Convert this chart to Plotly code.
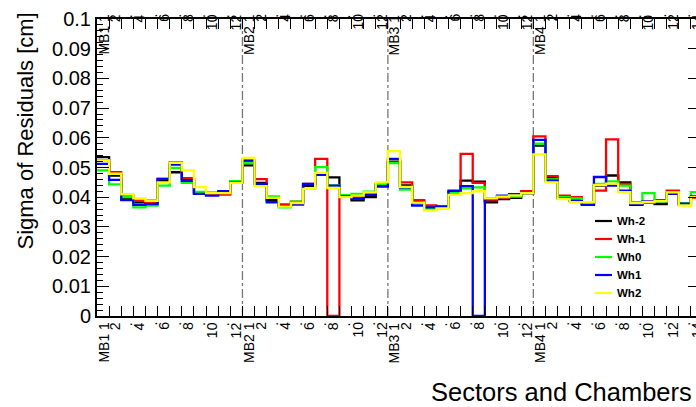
import plotly.graph_objects as go

# Chambers and how many sectors each one has
CHAMBERS = ["MB1", "MB2", "MB3", "MB4"]
SECTOR_COUNTS = [12, 12, 12, 14]

# Sigma of residuals [cm] per bin (chamber/sector), one list per wheel
wh_m2 = [0.0535, 0.0473, 0.0395, 0.0383, 0.0388, 0.0455, 0.0484, 0.0462, 0.0416, 0.0408, 0.0413, 0.0450,
         0.0507, 0.0448, 0.0390, 0.0372, 0.0380, 0.0438, 0.0478, 0.0467, 0.0405, 0.0389, 0.0400, 0.0444,
         0.0520, 0.0440, 0.0385, 0.0365, 0.0368, 0.0418, 0.0456, 0.0452, 0.0383, 0.0394, 0.0398, 0.0414,
         0.0574, 0.0466, 0.0402, 0.0389, 0.0378, 0.0439, 0.0473, 0.0450, 0.0374, 0.0381, 0.0377, 0.0413, 0.0375, 0.0400]
wh_m1 = [0.0525, 0.0484, 0.0405, 0.0388, 0.0382, 0.0462, 0.0518, 0.0464, 0.0413, 0.0410, 0.0409, 0.0450,
         0.0518, 0.0461, 0.0400, 0.0376, 0.0385, 0.0445, 0.0529, 0.0000, 0.0402, 0.0400, 0.0410, 0.0440,
         0.0517, 0.0450, 0.0390, 0.0372, 0.0368, 0.0414, 0.0546, 0.0448, 0.0389, 0.0398, 0.0404, 0.0420,
         0.0605, 0.0471, 0.0405, 0.0400, 0.0380, 0.0422, 0.0595, 0.0445, 0.0383, 0.0385, 0.0390, 0.0422, 0.0380, 0.0398]
wh_0 = [0.0490, 0.0443, 0.0400, 0.0366, 0.0372, 0.0439, 0.0499, 0.0448, 0.0418, 0.0416, 0.0415, 0.0454,
        0.0515, 0.0443, 0.0403, 0.0366, 0.0385, 0.0428, 0.0501, 0.0440, 0.0407, 0.0411, 0.0419, 0.0444,
        0.0515, 0.0426, 0.0380, 0.0360, 0.0363, 0.0414, 0.0430, 0.0433, 0.0396, 0.0400, 0.0402, 0.0414,
        0.0580, 0.0460, 0.0400, 0.0396, 0.0376, 0.0445, 0.0453, 0.0439, 0.0383, 0.0414, 0.0385, 0.0414, 0.0380, 0.0417]
wh_p1 = [0.0512, 0.0458, 0.0390, 0.0374, 0.0377, 0.0462, 0.0510, 0.0455, 0.0411, 0.0405, 0.0420, 0.0450,
         0.0524, 0.0445, 0.0383, 0.0370, 0.0375, 0.0445, 0.0475, 0.0439, 0.0403, 0.0395, 0.0408, 0.0436,
         0.0529, 0.0433, 0.0372, 0.0366, 0.0368, 0.0422, 0.0437, 0.0000, 0.0394, 0.0405, 0.0410, 0.0414,
         0.0593, 0.0456, 0.0396, 0.0387, 0.0374, 0.0468, 0.0439, 0.0422, 0.0378, 0.0385, 0.0387, 0.0411, 0.0378, 0.0403]
wh_p2 = [0.0524, 0.0479, 0.0410, 0.0396, 0.0388, 0.0450, 0.0516, 0.0490, 0.0434, 0.0414, 0.0414, 0.0448,
         0.0532, 0.0437, 0.0398, 0.0368, 0.0380, 0.0428, 0.0482, 0.0431, 0.0400, 0.0405, 0.0416, 0.0450,
         0.0555, 0.0435, 0.0382, 0.0355, 0.0362, 0.0408, 0.0414, 0.0420, 0.0396, 0.0402, 0.0406, 0.0414,
         0.0544, 0.0450, 0.0394, 0.0383, 0.0383, 0.0441, 0.0446, 0.0417, 0.0380, 0.0383, 0.0387, 0.0416, 0.0372, 0.0400]

SERIES = [("Wh-2", wh_m2, "#000000"),
          ("Wh-1", wh_m1, "#ff0000"),
          ("Wh0", wh_0, "#00ff00"),
          ("Wh1", wh_p1, "#0000ff"),
          ("Wh2", wh_p2, "#ffff00")]

Y_TICKS = [0, 0.01, 0.02, 0.03, 0.04, 0.05, 0.06, 0.07, 0.08, 0.09, 0.1]
Y_TICK_TEXT = ["0", "0.01", "0.02", "0.03", "0.04", "0.05", "0.06", "0.07", "0.08", "0.09", "0.1"]

# Bin labels: "MBn 1" on the first sector, even sectors numbered, odd ones dotted
bin_labels = []
for ch, n in zip(CHAMBERS, SECTOR_COUNTS):
    for s in range(1, n + 1):
        if s == 1:
            bin_labels.append(ch + " 1")
        elif s % 2 == 0:
            bin_labels.append(str(s))
        else:
            bin_labels.append(".")
n_bins = len(bin_labels)
edges = list(range(n_bins + 1))

# Canvas geometry (pixels)
W, H = 696, 407
L, R, T, B = 97, 0, 19, 91
PW, PH = W - L - R, H - T - B
X_MAX = 49.42  # frame extends a little past the right side of the canvas

FONT = "Liberation Sans, Arial, sans-serif"


def px_x(px):
    return (px - L) / PW


def px_y(py):
    return (H - B - py) / PH


fig = go.Figure()
for name, vals, color in SERIES:
    fig.add_trace(go.Scatter(
        x=edges, y=vals + [vals[-1]], mode="lines", name=name,
        line=dict(color=color, width=2.3, shape="hv"),
        showlegend=False, hoverinfo="skip"))

# empty trace so the right-hand tick axis is drawn
fig.add_trace(go.Scatter(x=[], y=[], yaxis="y2", showlegend=False))

shapes = []
# chamber separators
for boundary in [12, 24, 36]:
    shapes.append(dict(type="line", xref="x", yref="paper", x0=boundary, x1=boundary, y0=0, y1=1,
                       line=dict(color="#777777", width=1.3, dash="dashdot"), layer="below"))

annotations = []
for i, lab in enumerate(bin_labels):
    xc = i + 0.5
    xp = xc / X_MAX
    for y_anchor_px in (12, 320):
        annotations.append(dict(
            x=xp, xref="paper", y=px_y(y_anchor_px), yref="paper",
            text=lab, showarrow=False, textangle=-90,
            xanchor="center", yanchor="top",
            font=dict(family=FONT, size=14, color="black")))

# axis titles
annotations.append(dict(x=px_x(25), xref="paper", y=px_y(11), yref="paper",
                        text="Sigma of Residuals [cm]", showarrow=False, textangle=-90,
                        xanchor="center", yanchor="top",
                        font=dict(family=FONT, size=22, color="black")))
annotations.append(dict(x=px_x(694), xref="paper", y=px_y(392), yref="paper",
                        text="Sectors and Chambers", showarrow=False,
                        xanchor="right", yanchor="middle",
                        font=dict(family=FONT, size=25.5, color="black")))

# legend
for k, (name, vals, color) in enumerate(SERIES):
    yp = 221 + 18 * k
    shapes.append(dict(type="line", xref="paper", yref="paper",
                       x0=px_x(595), x1=px_x(612), y0=px_y(yp), y1=px_y(yp),
                       line=dict(color=color, width=2.2)))
    annotations.append(dict(x=px_x(615), xref="paper", y=px_y(yp), yref="paper",
                            text="<b>%s</b>" % name, showarrow=False,
                            xanchor="left", yanchor="middle",
                            font=dict(family=FONT, size=11.5, color="black")))

minor_vals = [round(0.002 * k, 3) for k in range(51) if k % 5 != 0]

fig.update_layout(
    width=W, height=H,
    margin=dict(l=L, r=R, t=T, b=B, pad=0),
    paper_bgcolor="white", plot_bgcolor="white",
    font=dict(family=FONT, color="black"),
    showlegend=False,
    shapes=shapes, annotations=annotations,
    xaxis=dict(range=[0, X_MAX], showgrid=False, zeroline=False,
               showline=True, linewidth=2, linecolor="black", mirror="ticks",
               ticks="inside", ticklen=10, tickwidth=1, tickcolor="black",
               tickmode="array", tickvals=edges, showticklabels=False),
    yaxis=dict(range=[0, 0.1], showgrid=False, zeroline=False,
               showline=True, linewidth=2, linecolor="black",
               ticks="inside", ticklen=12, tickwidth=1, tickcolor="black",
               tickmode="array", tickvals=Y_TICKS, ticktext=Y_TICK_TEXT,
               tickfont=dict(family=FONT, size=20, color="black"),
               minor=dict(tickmode="array", tickvals=minor_vals, ticks="inside",
                          ticklen=6, tickwidth=1, tickcolor="black", showgrid=False)),
    yaxis2=dict(range=[0, 0.1], overlaying="y", side="right", showgrid=False, zeroline=False,
                showline=False, ticks="inside", ticklen=8, tickwidth=1, tickcolor="black",
                tickmode="array", tickvals=Y_TICKS, showticklabels=False),
)

fig.write_html("out.html")
